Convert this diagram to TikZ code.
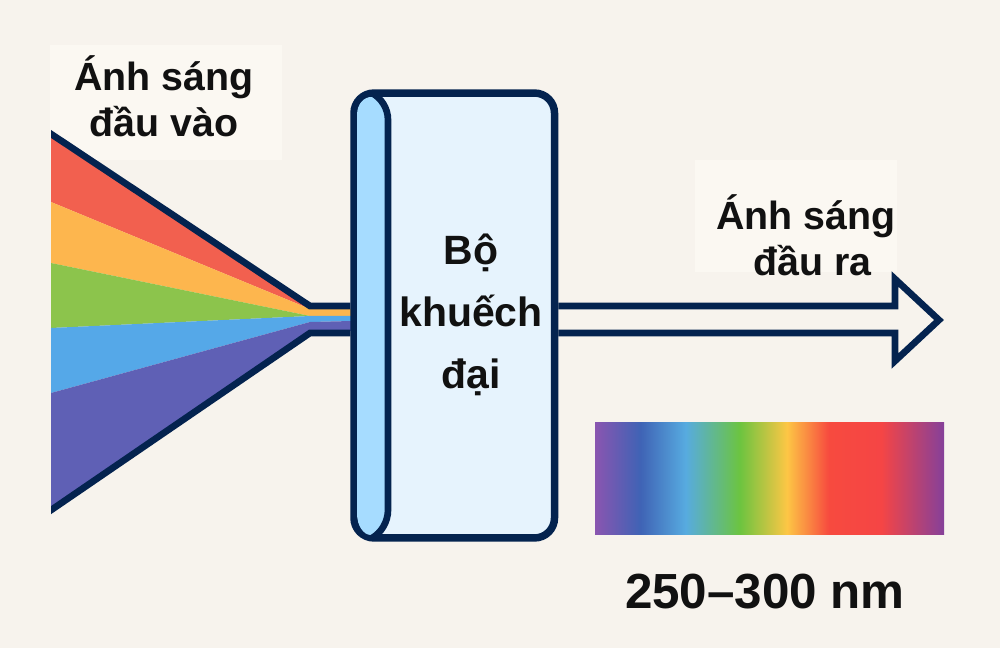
\documentclass[tikz,border=0pt]{standalone}
\usepackage{fontspec}
\setmainfont{Liberation Sans}
\usetikzlibrary{positioning}
\definecolor{paper}{HTML}{F7F3ED}
\definecolor{labelbg}{HTML}{FBF8F2}
\definecolor{navy}{HTML}{04234F}
\definecolor{panel}{HTML}{E6F3FD}
\definecolor{tube}{HTML}{A6DCFF}
\definecolor{inkblack}{HTML}{111111}
\definecolor{rayred}{HTML}{F2604F}
\definecolor{rayorange}{HTML}{FDB64E}
\definecolor{raygreen}{HTML}{8CC44C}
\definecolor{rayblue}{HTML}{55A8E8}
\definecolor{raypurple}{HTML}{5F60B5}
\definecolor{specviolet}{HTML}{8A55B0}
\definecolor{specindigo}{HTML}{3F63B5}
\definecolor{specsky}{HTML}{57ABE0}
\definecolor{specgreen}{HTML}{6CC440}
\definecolor{specyellow}{HTML}{FDC645}
\definecolor{specred}{HTML}{F74A3F}
\definecolor{specrose}{HTML}{F54545}
\definecolor{specplum}{HTML}{85409A}
\pgfdeclarehorizontalshading{spectrum}{100bp}{
	color(0bp)=(specviolet);
	color(25bp)=(specviolet);
	color(31.5bp)=(specindigo);
	color(38bp)=(specsky);
	color(45.75bp)=(specgreen);
	color(52.5bp)=(specyellow);
	color(58.5bp)=(specred);
	color(66bp)=(specrose);
	color(75bp)=(specplum);
	color(100bp)=(specplum)}
\tikzset{
	beamline/.style={draw=navy,line width=5pt,miter limit=10},
	caption/.style={font=\bfseries\fontsize{29.5}{34.5}\selectfont,text=inkblack,align=center,inner sep=0pt},
}

\begin{document}
\begin{tikzpicture}[x=0.75pt,y=-0.75pt]
	\useasboundingbox (0,0) rectangle (1000,648);
	\fill[paper] (0,0) rectangle (1000,648);
	\fill[labelbg] (50,45) rectangle (282,160);
	\fill[labelbg] (695,160) rectangle (897,272);
	
	% input rays
	\fill[rayred] (51,133) -- (310,306) -- (310,309) -- (51,202) -- cycle;
	\fill[rayorange] (51,202) -- (310,309) -- (352,309) -- (352,316) -- (310,316) -- (51,263) -- cycle;
	\fill[raygreen] (51,263) -- (310,316) -- (51,328) -- cycle;
	\fill[rayblue] (51,328) -- (310,316) -- (352,316) -- (352,321) -- (310,322) -- (51,393) -- cycle;
	\fill[raypurple] (51,393) -- (310,322) -- (352,321) -- (352,331) -- (310,331) -- (51,510) -- cycle;
	
	\node[draw=navy,fill=panel,line width=5.6pt,rounded corners=15pt,minimum width=150.4pt,minimum height=333.7pt,inner sep=0pt] (amp) at (454.25,315.5) {};
	\fill[tube] (357,115) .. controls (357,103) and (365,97) .. (371,97) .. controls (377,97) and (385,105) .. (385,116) -- (385,512) .. controls (385,524) and (378,535) .. (371,535) .. controls (363,535) and (357,525) .. (357,513) -- cycle;
	\draw[navy,line width=5pt] (372,93) .. controls (381,98) and (388,108) .. (388,120) -- (388,510) .. controls (388,522) and (381,533) .. (372,538);
	
	% outlines of the ray bundle
	\coordinate (intop) at (310,306);
	\coordinate (inbot) at (310,333);
	\begin{scope}
		\clip (51,0) rectangle (amp.west |- 0,648);
		\draw[beamline] (30,120) -- (intop) -- (amp.west |- intop);
		\draw[beamline] (30,524.5) -- (inbot) -- (amp.west |- inbot);
	\end{scope}
	
	% output arrow
	\coordinate (headtop) at (895,279);
	\coordinate (headtip) at (939,320);
	\coordinate (headbot) at (895,361);
	\draw[beamline] (amp.east |- intop) -- (895,306) -- (headtop) -- (headtip) -- (headbot) -- (895,333) -- (amp.east |- inbot);
	
	\node[caption] (inlabel) at (164,96) {Ánh sáng\\đầu vào};
	\node[caption] (outlabel) at (806,235) {Ánh sáng\\\hspace*{10pt}đầu ra};
	\node[caption,font=\bfseries\fontsize{30.7}{46.5}\selectfont] (amplabel) at (471,314.5) {Bộ\\khuếch\\đại};
	
	\path[shade,shading=spectrum] (595,423) rectangle (944,534);
	\coordinate (bar) at (765,534);
	\node[caption,font=\bfseries\fontsize{37}{44}\selectfont,below=29.5pt of bar] (range) {250–300 nm};
\end{tikzpicture}
\end{document}
